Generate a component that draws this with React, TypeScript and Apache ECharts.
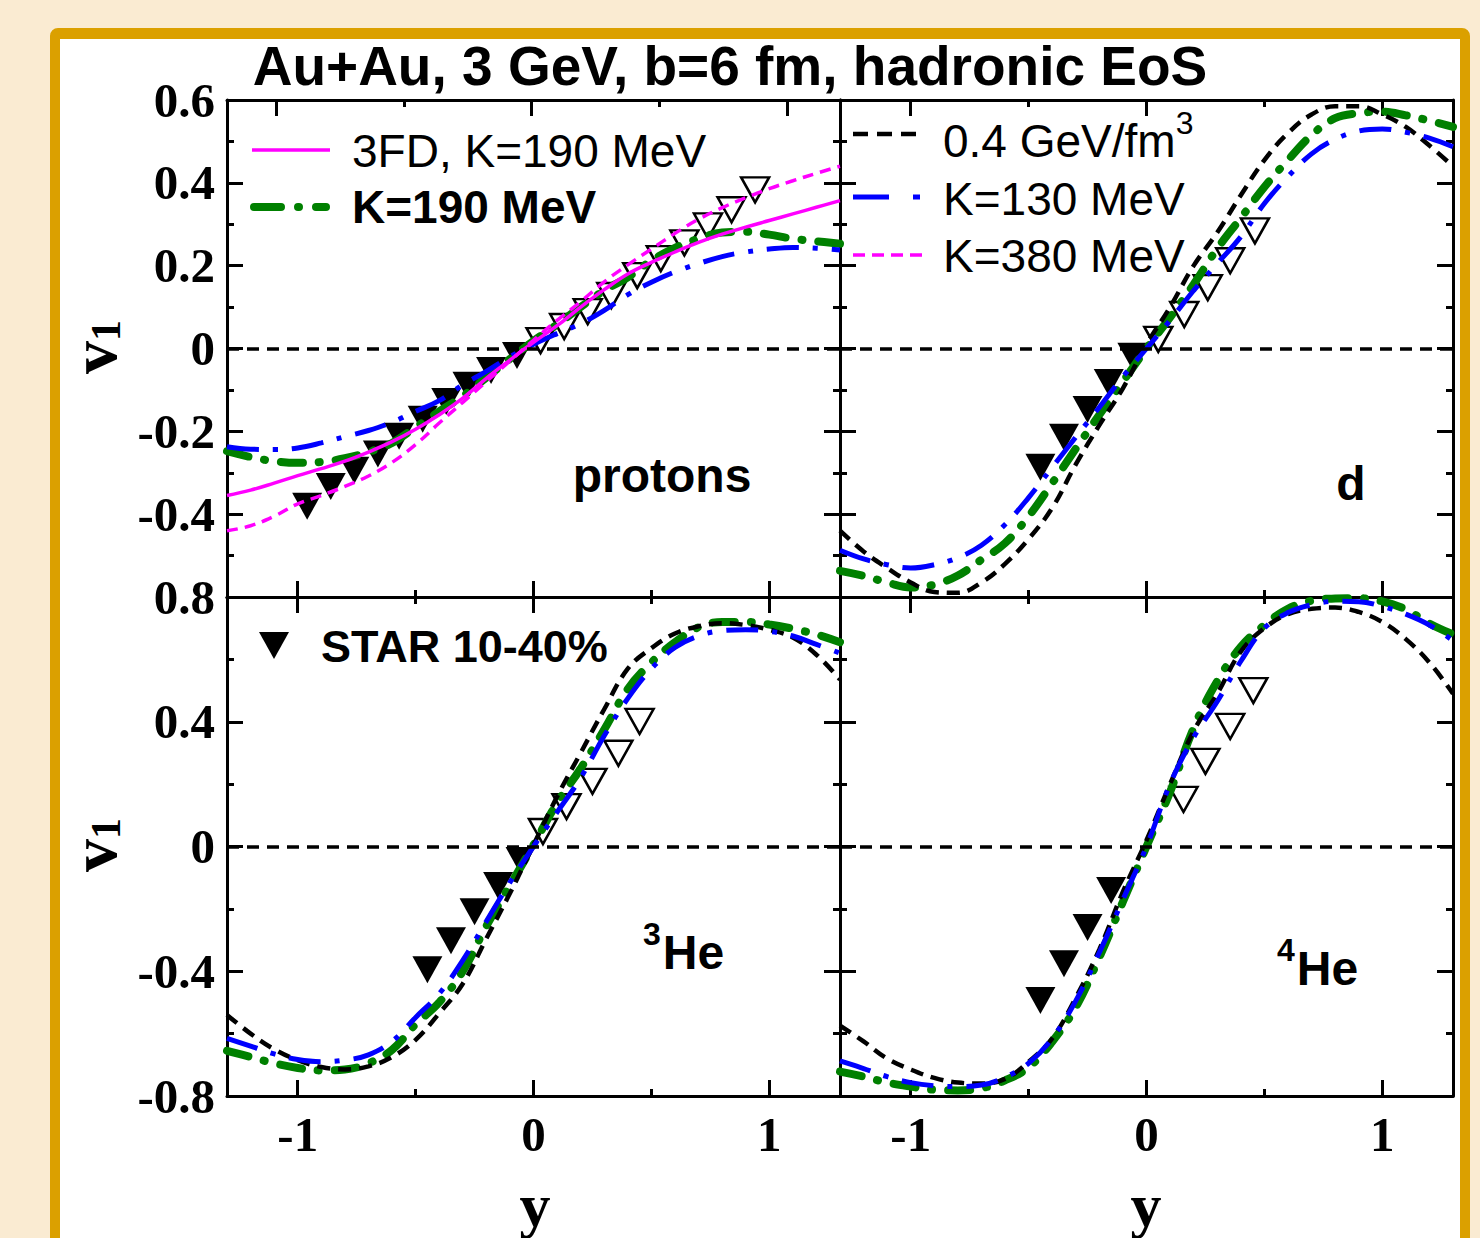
import React, { useEffect, useRef } from "react";
import * as echarts from "echarts";

// ---------- data ----------
const rapidity = [-1.3, -1.2, -1.1, -1.0, -0.9, -0.8, -0.7, -0.6, -0.5, -0.4, -0.3, -0.2, -0.1, 0, 0.1, 0.2, 0.3, 0.4, 0.5, 0.6, 0.7, 0.8, 0.9, 1.0, 1.1, 1.2, 1.3];

// protons
const pK190_3FD = [-0.355, -0.342, -0.325, -0.307, -0.29, -0.272, -0.25, -0.225, -0.195, -0.16, -0.12, -0.072, -0.028, 0.015, 0.055, 0.1, 0.142, 0.18, 0.208, 0.233, 0.256, 0.276, 0.293, 0.309, 0.325, 0.341, 0.357];
const pK380 = [-0.44, -0.428, -0.405, -0.375, -0.355, -0.333, -0.308, -0.275, -0.232, -0.18, -0.13, -0.08, -0.03, 0.02, 0.068, 0.113, 0.161, 0.202, 0.24, 0.278, 0.312, 0.34, 0.364, 0.386, 0.405, 0.423, 0.44];
const pK190 = [-0.248, -0.262, -0.272, -0.276, -0.274, -0.265, -0.25, -0.228, -0.19, -0.152, -0.115, -0.07, -0.025, 0.018, 0.058, 0.1, 0.14, 0.172, 0.212, 0.243, 0.265, 0.28, 0.282, 0.275, 0.265, 0.259, 0.253];
const pK130 = [-0.237, -0.243, -0.244, -0.24, -0.228, -0.213, -0.198, -0.178, -0.152, -0.126, -0.088, -0.055, -0.02, 0.01, 0.036, 0.06, 0.092, 0.13, 0.16, 0.185, 0.205, 0.222, 0.233, 0.24, 0.244, 0.242, 0.238];
const pStarNegY = [-0.96, -0.86, -0.76, -0.66, -0.57, -0.47, -0.37, -0.28, -0.18, -0.07];
const pStarNegV = [-0.381, -0.333, -0.294, -0.255, -0.212, -0.171, -0.128, -0.089, -0.053, -0.017];
const pStarPosY = [0.03, 0.13, 0.23, 0.33, 0.44, 0.54, 0.64, 0.74, 0.84, 0.94];
const pStarPosV = [0.019, 0.053, 0.089, 0.128, 0.176, 0.217, 0.255, 0.296, 0.335, 0.383];

// deuterons
const dEc04 = [-0.44, -0.49, -0.53, -0.565, -0.588, -0.59, -0.565, -0.52, -0.46, -0.385, -0.28, -0.185, -0.096, 0.01, 0.1, 0.2, 0.28, 0.37, 0.455, 0.52, 0.565, 0.585, 0.585, 0.565, 0.535, 0.49, 0.44];
const dK190 = [-0.537, -0.549, -0.565, -0.577, -0.57, -0.548, -0.51, -0.47, -0.405, -0.325, -0.242, -0.16, -0.08, 0.0, 0.075, 0.155, 0.241, 0.315, 0.39, 0.455, 0.515, 0.556, 0.568, 0.572, 0.563, 0.55, 0.535];
const dK130 = [-0.487, -0.508, -0.522, -0.53, -0.522, -0.505, -0.475, -0.425, -0.36, -0.287, -0.214, -0.142, -0.068, 0.0, 0.068, 0.14, 0.205, 0.27, 0.35, 0.415, 0.47, 0.505, 0.525, 0.53, 0.522, 0.508, 0.487];
const dStarNegY = [-0.45, -0.35, -0.25, -0.16, -0.06];
const dStarNegV = [-0.287, -0.214, -0.147, -0.082, -0.019];
const dStarPosY = [0.05, 0.16, 0.26, 0.355, 0.46];
const dStarPosV = [0.022, 0.082, 0.147, 0.212, 0.284];

// 3He
const he3Ec04 = [-0.54, -0.6, -0.65, -0.685, -0.707, -0.715, -0.705, -0.675, -0.62, -0.535, -0.44, -0.295, -0.15, 0.005, 0.16, 0.3, 0.44, 0.57, 0.636, 0.683, 0.706, 0.716, 0.71, 0.695, 0.67, 0.615, 0.535];
const he3K190 = [-0.655, -0.675, -0.695, -0.71, -0.718, -0.715, -0.695, -0.652, -0.57, -0.5, -0.4, -0.255, -0.125, 0.005, 0.14, 0.25, 0.375, 0.505, 0.59, 0.655, 0.703, 0.72, 0.72, 0.712, 0.698, 0.68, 0.655];
const he3K130 = [-0.615, -0.64, -0.665, -0.683, -0.69, -0.685, -0.668, -0.625, -0.548, -0.472, -0.365, -0.24, -0.115, 0.0, 0.11, 0.22, 0.355, 0.475, 0.57, 0.638, 0.675, 0.692, 0.695, 0.69, 0.675, 0.648, 0.62];
const he3StarNegY = [-0.45, -0.35, -0.25, -0.15, -0.055];
const he3StarNegV = [-0.395, -0.302, -0.209, -0.125, -0.045];
const he3StarPosY = [0.04, 0.14, 0.25, 0.36, 0.45];
const he3StarPosV = [0.048, 0.128, 0.209, 0.299, 0.401];

// 4He
const he4Ec04 = [-0.574, -0.625, -0.68, -0.715, -0.742, -0.757, -0.76, -0.745, -0.69, -0.615, -0.485, -0.33, -0.145, 0.02, 0.2, 0.37, 0.49, 0.625, 0.7, 0.745, 0.762, 0.766, 0.752, 0.72, 0.665, 0.59, 0.49];
const he4K190 = [-0.722, -0.738, -0.757, -0.77, -0.78, -0.782, -0.775, -0.75, -0.708, -0.626, -0.515, -0.355, -0.177, 0.0, 0.175, 0.38, 0.53, 0.64, 0.71, 0.762, 0.788, 0.795, 0.796, 0.786, 0.76, 0.715, 0.68];
const he4K130 = [-0.687, -0.712, -0.738, -0.757, -0.767, -0.77, -0.765, -0.74, -0.695, -0.615, -0.495, -0.34, -0.17, 0.0, 0.2, 0.35, 0.465, 0.594, 0.7, 0.75, 0.775, 0.786, 0.785, 0.77, 0.745, 0.71, 0.66];
const he4StarNegY = [-0.45, -0.35, -0.25, -0.15];
const he4StarNegV = [-0.494, -0.376, -0.26, -0.141];
const he4StarPosY = [0.157, 0.25, 0.355, 0.453];
const he4StarPosV = [0.151, 0.273, 0.385, 0.5];

// ticks
const xMajorTicks = [-1, 0, 1];
const xMinorTicks = [-0.5, 0.5];
const xTopMajorTicksTL = [-1.09, -0.01, 1.075];
const xTopMinorTicksTL = [-0.55, 0.533];

const title = "Au+Au, 3 GeV, b=6 fm, hadronic EoS";

// ---------- styles ----------
const BLACK = "#000000";
const BLUE = "#0000ff";
const GREEN = "#008000";
const MAGENTA = "#ff00ff";
const SERIF = "'Liberation Serif', 'Times New Roman', serif";
const SANS = "'Liberation Sans', Arial, sans-serif";

const styleEc04 = { color: BLACK, width: 4.5, type: [13, 8] as number[], cap: "butt" };
const styleK130 = { color: BLUE, width: 5, type: [32, 14, 5, 14] as number[], cap: "butt" };
const styleK190 = { color: GREEN, width: 8, type: [22, 16, 1, 16] as number[], cap: "round" };
const styleK380 = { color: MAGENTA, width: 3.5, type: [11, 7] as number[], cap: "butt" };
const style3FD = { color: MAGENTA, width: 3.5, type: "solid" as any, cap: "butt" };

const pairs = (xs: number[], ys: number[]) => xs.map((x, i) => [x, ys[i]]);

type Curve = { name: string; values: number[]; style: any };
type Panel = {
  left: number; top: number; width: number; height: number;
  yMin: number; yMax: number; yStep: number;
  showY: boolean; showX: boolean; hideMinY: boolean;
  topMajor: number[]; topMinor: number[];
  curves: Curve[];
  negY: number[]; negV: number[]; posY: number[]; posV: number[];
};

const panels: Panel[] = [
  {
    left: 227, top: 100, width: 613, height: 497, yMin: -0.6, yMax: 0.6, yStep: 0.2,
    showY: true, showX: false, hideMinY: true, topMajor: xTopMajorTicksTL, topMinor: xTopMinorTicksTL,
    curves: [
      { name: "K=190 MeV", values: pK190, style: styleK190 },
      { name: "K=130 MeV", values: pK130, style: styleK130 },
      { name: "K=380 MeV", values: pK380, style: styleK380 },
      { name: "3FD, K=190 MeV", values: pK190_3FD, style: style3FD },
    ],
    negY: pStarNegY, negV: pStarNegV, posY: pStarPosY, posV: pStarPosV,
  },
  {
    left: 840, top: 100, width: 613, height: 497, yMin: -0.6, yMax: 0.6, yStep: 0.2,
    showY: false, showX: false, hideMinY: false, topMajor: xMajorTicks, topMinor: xMinorTicks,
    curves: [
      { name: "K=190 MeV", values: dK190, style: styleK190 },
      { name: "0.4 GeV/fm3", values: dEc04, style: styleEc04 },
      { name: "K=130 MeV", values: dK130, style: styleK130 },
    ],
    negY: dStarNegY, negV: dStarNegV, posY: dStarPosY, posV: dStarPosV,
  },
  {
    left: 227, top: 597, width: 613, height: 499, yMin: -0.8, yMax: 0.8, yStep: 0.4,
    showY: true, showX: true, hideMinY: false, topMajor: xMajorTicks, topMinor: xMinorTicks,
    curves: [
      { name: "K=190 MeV", values: he3K190, style: styleK190 },
      { name: "0.4 GeV/fm3", values: he3Ec04, style: styleEc04 },
      { name: "K=130 MeV", values: he3K130, style: styleK130 },
    ],
    negY: he3StarNegY, negV: he3StarNegV, posY: he3StarPosY, posV: he3StarPosV,
  },
  {
    left: 840, top: 597, width: 613, height: 499, yMin: -0.8, yMax: 0.8, yStep: 0.4,
    showY: false, showX: true, hideMinY: false, topMajor: xMajorTicks, topMinor: xMinorTicks,
    curves: [
      { name: "K=190 MeV", values: he4K190, style: styleK190 },
      { name: "0.4 GeV/fm3", values: he4Ec04, style: styleEc04 },
      { name: "K=130 MeV", values: he4K130, style: styleK130 },
    ],
    negY: he4StarNegY, negV: he4StarNegV, posY: he4StarPosY, posV: he4StarPosV,
  },
];

const axisLine = { show: true, onZero: false, lineStyle: { color: BLACK, width: 3 } };
const noAxisLine = { show: false, onZero: false };
const tickLine = { color: BLACK, width: 3 };
const labelFont = { fontFamily: SERIF, fontWeight: "bold", fontSize: 49, color: BLACK };

function buildOption() {
  const grid: any[] = [];
  const xAxis: any[] = [];
  const yAxis: any[] = [];
  const series: any[] = [];

  panels.forEach((p, gi) => {
    grid.push({ left: p.left, top: p.top, width: p.width, height: p.height, containLabel: false });
    const xb = { type: "value", gridIndex: gi, min: -1.3, max: 1.3, splitLine: { show: false } };
    xAxis.push(
      {
        ...xb, position: "bottom", axisLine,
        axisTick: { show: true, inside: true, length: 16, customValues: xMajorTicks, lineStyle: tickLine },
        axisLabel: p.showX ? { show: true, customValues: xMajorTicks, margin: 14, ...labelFont } : { show: false },
      },
      {
        ...xb, position: "bottom", axisLine: noAxisLine,
        axisTick: { show: true, inside: true, length: 7, customValues: xMinorTicks, lineStyle: tickLine },
        axisLabel: { show: false },
      },
      {
        ...xb, position: "top", axisLine,
        axisTick: { show: true, inside: true, length: 16, customValues: p.topMajor, lineStyle: tickLine },
        axisLabel: { show: false },
      },
      {
        ...xb, position: "top", axisLine: noAxisLine,
        axisTick: { show: true, inside: true, length: 7, customValues: p.topMinor, lineStyle: tickLine },
        axisLabel: { show: false },
      }
    );
    const yb = {
      type: "value", gridIndex: gi, min: p.yMin, max: p.yMax, interval: p.yStep,
      splitLine: { show: false }, axisLine,
      axisTick: { show: true, inside: true, length: 16, lineStyle: tickLine },
      minorTick: { show: true, splitNumber: 2, length: 7, lineStyle: tickLine },
    };
    yAxis.push(
      {
        ...yb, position: "left",
        axisLabel: p.showY
          ? { show: true, margin: 12, showMinLabel: !p.hideMinY, ...labelFont }
          : { show: false },
      },
      { ...yb, position: "right", axisLabel: { show: false } }
    );

    const xi = gi * 4;
    const yi = gi * 2;
    series.push({
      type: "scatter", name: "STAR 10-40%", xAxisIndex: xi, yAxisIndex: yi,
      data: pairs(p.negY, p.negV), symbol: "triangle", symbolRotate: 180, symbolSize: [30, 27],
      itemStyle: { color: BLACK, opacity: 1 }, silent: true,
      markLine: {
        silent: true, symbol: ["none", "none"], label: { show: false },
        lineStyle: { color: BLACK, width: 3.5, type: [12, 8] },
        data: [{ yAxis: 0 }],
      },
    });
    series.push({
      type: "scatter", name: "STAR 10-40% (reflected)", xAxisIndex: xi, yAxisIndex: yi,
      data: pairs(p.posY, p.posV), symbol: "triangle", symbolRotate: 180, symbolSize: [28, 25],
      itemStyle: { color: "rgba(255,255,255,0)", borderColor: BLACK, borderWidth: 2.5, opacity: 1 }, silent: true,
    });
    p.curves.forEach((c) => {
      series.push({
        type: "line", name: c.name, xAxisIndex: xi, yAxisIndex: yi,
        data: pairs(rapidity, c.values), showSymbol: false, smooth: 0.4, silent: true,
        lineStyle: { color: c.style.color, width: c.style.width, type: c.style.type, cap: c.style.cap },
      });
    });
  });

  const txt = (text: string, x: number, y: number, font: string, align = "left", extra: any = {}) => ({
    type: "text", x, y, silent: true, z: 100,
    style: { text, font, fill: BLACK, textAlign: align, textVerticalAlign: "middle", ...extra },
  });
  const seg = (x1: number, x2: number, y: number, st: any, dash: number[] | null) => ({
    type: "line", silent: true, z: 100,
    shape: { x1, y1: y, x2, y2: y },
    style: { stroke: st.color, lineWidth: st.width, lineDash: dash || undefined, lineCap: st.cap },
  });
  const v1Label = (y: number) => ({
    type: "text", x: 93, y, rotation: Math.PI / 2, silent: true, z: 100,
    style: {
      text: "{v|v}{s|1}", fill: BLACK, textAlign: "center", textVerticalAlign: "middle",
      rich: {
        v: { font: `bold 66px ${SERIF}`, fill: BLACK },
        s: { font: `bold 42px ${SERIF}`, fill: BLACK, padding: [26, 0, 0, 0] },
      },
    },
  });

  const graphic: any[] = [
    txt(title, 730, 66, `bold 55px ${SANS}`, "center"),
    // legend top-left
    seg(252, 330, 150, style3FD, null),
    txt("3FD, K=190 MeV", 352, 151, `46px ${SANS}`),
    seg(254, 326, 207, styleK190, [27, 17, 1, 17, 30]),
    txt("K=190 MeV", 352, 207, `bold 46px ${SANS}`),
    // legend top-right
    seg(853, 922, 134, styleEc04, [15, 9]),
    {
      type: "text", x: 943, y: 141, silent: true, z: 100,
      style: {
        text: "{a|0.4 GeV/fm}{s|3}", fill: BLACK, textAlign: "left", textVerticalAlign: "middle",
        rich: {
          a: { font: `46px ${SANS}`, fill: BLACK },
          s: { font: `32px ${SANS}`, fill: BLACK, padding: [0, 0, 36, 0] },
        },
      },
    },
    seg(853, 922, 197, styleK130, [36, 24, 7, 100]),
    txt("K=130 MeV", 943, 199, `46px ${SANS}`),
    seg(853, 922, 255, styleK380, [12, 7]),
    txt("K=380 MeV", 943, 256, `46px ${SANS}`),
    // legend bottom-left
    { type: "polygon", silent: true, z: 100, shape: { points: [[259, 632], [289, 632], [274, 659]] }, style: { fill: BLACK } },
    txt("STAR 10-40%", 321, 646, `bold 45px ${SANS}`),
    // panel labels
    txt("protons", 662, 475, `bold 48px ${SANS}`, "center"),
    txt("d", 1351, 483, `bold 48px ${SANS}`, "center"),
    {
      type: "text", x: 643, y: 952, silent: true, z: 100,
      style: {
        text: "{s|3}{a|He}", fill: BLACK, textAlign: "left", textVerticalAlign: "middle",
        rich: {
          a: { font: `bold 48px ${SANS}`, fill: BLACK },
          s: { font: `bold 32px ${SANS}`, fill: BLACK, padding: [0, 2, 36, 0] },
        },
      },
    },
    {
      type: "text", x: 1277, y: 968, silent: true, z: 100,
      style: {
        text: "{s|4}{a|He}", fill: BLACK, textAlign: "left", textVerticalAlign: "middle",
        rich: {
          a: { font: `bold 48px ${SANS}`, fill: BLACK },
          s: { font: `bold 32px ${SANS}`, fill: BLACK, padding: [0, 2, 36, 0] },
        },
      },
    },
    // axis names
    v1Label(347),
    v1Label(845),
    txt("y", 535, 1205, `bold 62px ${SERIF}`, "center"),
    txt("y", 1146, 1205, `bold 62px ${SERIF}`, "center"),
  ];

  return {
    animation: false,
    backgroundColor: "transparent",
    grid, xAxis, yAxis, series, graphic,
  };
}

export default function App() {
  const ref = useRef<HTMLDivElement>(null);
  useEffect(() => {
    document.body.style.margin = "0";
    if (!ref.current) return;
    const chart = echarts.init(ref.current, null, { renderer: "svg" });
    chart.setOption(buildOption() as any);
    return () => chart.dispose();
  }, []);
  return (
    <div style={{ position: "relative", width: 1480, height: 1238, background: "#faebd2", overflow: "hidden" }}>
      <div
        style={{
          position: "absolute", left: 50, top: 28, width: 1420, height: 1300,
          boxSizing: "border-box", border: "10px solid #dba000", borderTopWidth: 11,
          borderRadius: 8, background: "#ffffff",
        }}
      />
      <div ref={ref} style={{ position: "absolute", left: 0, top: 0, width: 1480, height: 1238 }} />
    </div>
  );
}
